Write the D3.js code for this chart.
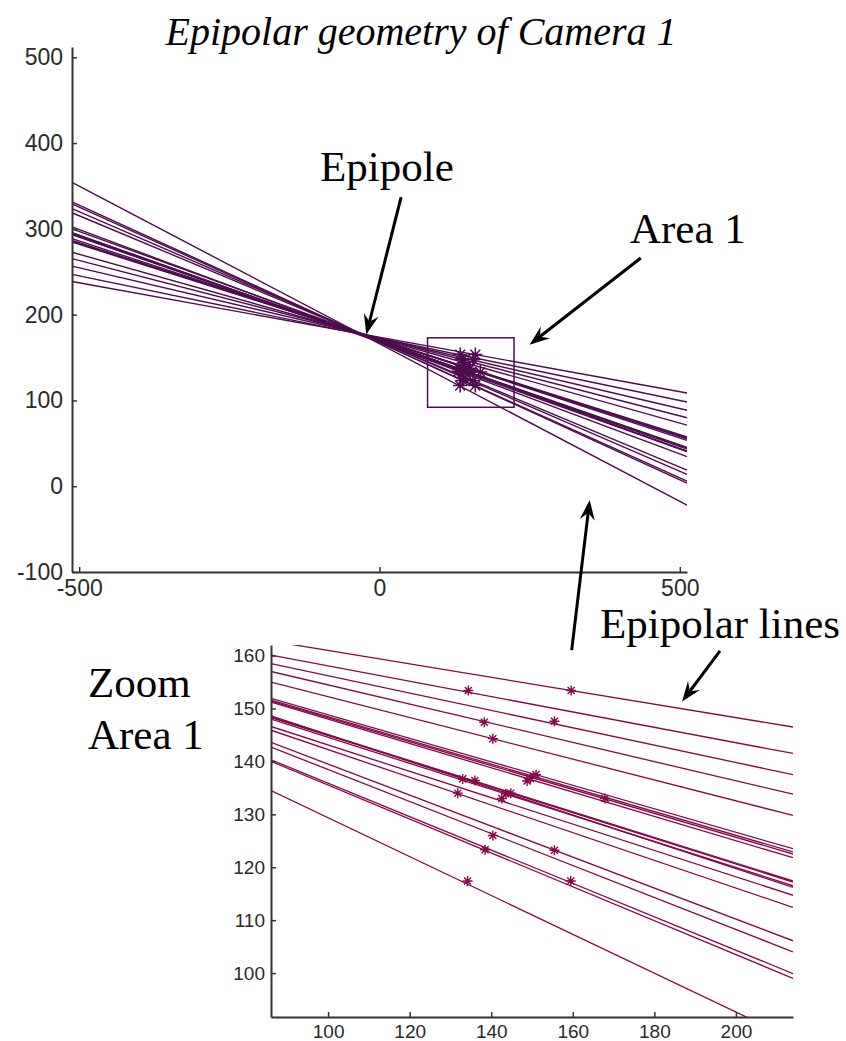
<!DOCTYPE html>
<html>
<head>
<meta charset="utf-8">
<script src="https://cdn.jsdelivr.net/npm/d3@7"></script>
<style>
  body { margin: 0; background: #fff; }
  .axis text { font-family: "Liberation Sans", Arial, sans-serif; fill: #2a2a2a; }
  .note { font-family: "Liberation Serif", "Times New Roman", serif; fill: #000; }
</style>
</head>
<body>
<div id="chart"></div>
<script>
// epipolar lines, each given by its y value at x = 86 and at x = 214 (read from the zoom)
const lineX = [86, 214];
const lineYLeft = [162.75, 160.1, 158.5, 157.0, 155.0, 151.9, 151.6, 151.4, 151.2,
                   148.6, 148.4, 148.3, 148.0, 146.6, 145.9, 142.7, 143.6, 140.3, 140.0, 134.5];
const lineYRight = [146.5, 141.5, 137.5, 133.8, 129.8, 123.5, 122.9, 122.5, 121.8,
                    116.2, 117.4, 117.2, 116.5, 114.7, 112.4, 104.0, 106.1, 99.9, 99.0, 87.5];

// matched points
const pointX = [159.6, 134.4, 155.5, 138.3, 140.4, 151.0, 149.6, 148.8, 167.9,
                133.0, 136.0, 144.8, 143.6, 142.6, 131.8, 140.4, 155.5, 159.5, 138.5, 134.2];
const pointY = [153.4, 153.4, 147.6, 147.4, 144.3, 137.5, 136.8, 136.3, 133.0,
                136.7, 136.4, 134.0, 133.9, 133.0, 134.0, 126.0, 123.2, 117.4, 123.3, 117.4];

// area 1 box (top plot)
const areaX = [80, 224];
const areaY = [92, 173];

const topXDomain = [-512, 512];
const topYDomain = [-100, 512];
const topXTicks = [-500, 0, 500];
const topYTicks = [-100, 0, 100, 200, 300, 400, 500];

const zoomXDomain = [86, 214];
const zoomYDomain = [91.7, 162];
const zoomXTicks = [100, 120, 140, 160, 180, 200];
const zoomYTicks = [100, 110, 120, 130, 140, 150, 160];

const W = 846, H = 1041;
const topColor = "#4e0c4e";
const zoomColor = "#84084a";

const svg = d3.select("#chart")
    .append("svg")
    .attr("width", W)
    .attr("height", H);

const defs = svg.append("defs");

const lineAt = (i, xv) => {
    const s = (lineYRight[i] - lineYLeft[i]) / (lineX[1] - lineX[0]);
    return lineYLeft[i] + s * (xv - lineX[0]);
};

function asterisk(r) {
    const p = d3.path();
    const d = r * Math.SQRT1_2;
    p.moveTo(-r, 0); p.lineTo(r, 0);
    p.moveTo(0, -r); p.lineTo(0, r);
    p.moveTo(-d, -d); p.lineTo(d, d);
    p.moveTo(-d, d); p.lineTo(d, -d);
    return p.toString();
}

function styleAxis(g, fontSize) {
    g.attr("color", "#333");
    g.select(".domain").attr("stroke-width", 2);
    g.selectAll(".tick line").attr("stroke-width", 1.5);
    g.selectAll(".tick text").style("font-size", fontSize + "px");
}

const plain = d => String(d);

// ---------- top plot ----------
const x = d3.scaleLinear().domain(topXDomain).range([72, 687]);
const y = d3.scaleLinear().domain(topYDomain).range([572, 47]);

const topPlot = svg.append("g");

topPlot.selectAll(".epi-line")
    .data(d3.range(lineYLeft.length))
    .enter()
    .append("line")
    .attr("class", "epi-line")
    .attr("x1", x(topXDomain[0]))
    .attr("y1", i => y(lineAt(i, topXDomain[0])))
    .attr("x2", x(topXDomain[1]))
    .attr("y2", i => y(lineAt(i, topXDomain[1])))
    .attr("stroke", topColor)
    .attr("stroke-width", 1.4);

topPlot.append("rect")
    .attr("x", x(areaX[0]))
    .attr("y", y(areaY[1]))
    .attr("width", x(areaX[1]) - x(areaX[0]))
    .attr("height", y(areaY[0]) - y(areaY[1]))
    .attr("fill", "none")
    .attr("stroke", topColor)
    .attr("stroke-width", 1.5);

topPlot.selectAll(".pt")
    .data(pointX.map((px, i) => ({ x: px, y: pointY[i] })))
    .enter()
    .append("path")
    .attr("class", "pt")
    .attr("transform", d => `translate(${x(d.x)}, ${y(d.y)})`)
    .attr("d", asterisk(7))
    .attr("fill", "none")
    .attr("stroke", topColor)
    .attr("stroke-width", 1.5);

const topXAxis = topPlot.append("g")
    .attr("class", "axis")
    .attr("transform", `translate(0, ${y(topYDomain[0])})`)
    .call(d3.axisBottom(x).tickValues(topXTicks).tickFormat(plain)
        .tickSizeInner(-5).tickSizeOuter(0).tickPadding(8));
styleAxis(topXAxis, 23);

const topYAxis = topPlot.append("g")
    .attr("class", "axis")
    .attr("transform", `translate(${x(topXDomain[0])}, 0)`)
    .call(d3.axisLeft(y).tickValues(topYTicks).tickFormat(plain)
        .tickSizeInner(-5).tickSizeOuter(0).tickPadding(9));
styleAxis(topYAxis, 23);

// ---------- zoom plot ----------
const zx = d3.scaleLinear().domain(zoomXDomain).range([271, 793]);
const zy = d3.scaleLinear().domain(zoomYDomain).range([1017, 645]);

defs.append("clipPath")
    .attr("id", "zoomClip")
    .append("rect")
    .attr("x", zx(zoomXDomain[0]))
    .attr("y", zy(zoomYDomain[1]))
    .attr("width", zx(zoomXDomain[1]) - zx(zoomXDomain[0]))
    .attr("height", zy(zoomYDomain[0]) - zy(zoomYDomain[1]));

const zoomPlot = svg.append("g");
const zoomMarks = zoomPlot.append("g").attr("clip-path", "url(#zoomClip)");

zoomMarks.selectAll(".epi-line")
    .data(d3.range(lineYLeft.length))
    .enter()
    .append("line")
    .attr("class", "epi-line")
    .attr("x1", zx(zoomXDomain[0]))
    .attr("y1", i => zy(lineAt(i, zoomXDomain[0])))
    .attr("x2", zx(zoomXDomain[1]))
    .attr("y2", i => zy(lineAt(i, zoomXDomain[1])))
    .attr("stroke", zoomColor)
    .attr("stroke-width", 1.3);

zoomMarks.selectAll(".pt")
    .data(pointX.map((px, i) => ({ x: px, y: pointY[i] })))
    .enter()
    .append("path")
    .attr("class", "pt")
    .attr("transform", d => `translate(${zx(d.x)}, ${zy(d.y)})`)
    .attr("d", asterisk(5))
    .attr("fill", "none")
    .attr("stroke", zoomColor)
    .attr("stroke-width", 1.4);

const zoomXAxis = zoomPlot.append("g")
    .attr("class", "axis")
    .attr("transform", `translate(0, ${zy(zoomYDomain[0])})`)
    .call(d3.axisBottom(zx).tickValues(zoomXTicks).tickFormat(plain)
        .tickSizeInner(-5).tickSizeOuter(0).tickPadding(8));
styleAxis(zoomXAxis, 19);

const zoomYAxis = zoomPlot.append("g")
    .attr("class", "axis")
    .attr("transform", `translate(${zx(zoomXDomain[0])}, 0)`)
    .call(d3.axisLeft(zy).tickValues(zoomYTicks).tickFormat(plain)
        .tickSizeInner(-5).tickSizeOuter(0).tickPadding(6));
styleAxis(zoomYAxis, 19);

// ---------- annotations ----------
svg.append("text")
    .attr("class", "note")
    .attr("x", 421)
    .attr("y", 45)
    .attr("text-anchor", "middle")
    .style("font-size", "40px")
    .style("font-style", "italic")
    .text("Epipolar geometry of Camera 1");

const notes = [
    { text: "Epipole", x: 320, y: 181 },
    { text: "Area 1", x: 630, y: 243 },
    { text: "Epipolar lines", x: 600, y: 638 },
    { text: "Zoom", x: 88, y: 697 },
    { text: "Area 1", x: 88, y: 749 }
];

svg.selectAll(".label")
    .data(notes)
    .enter()
    .append("text")
    .attr("class", "note label")
    .attr("x", d => d.x)
    .attr("y", d => d.y)
    .style("font-size", "43px")
    .text(d => d.text);

// arrows: from / to in the coordinates of the plot they point into
const arrows = [
    { from: [x(36), y(337)], to: [x(-22), y(177)] },
    { from: [x(435), y(266)], to: [x(250), y(165)] },
    { from: [x(320), y(-191)], to: [x(350), y(-16)] },
    { from: [zx(196.1), zy(160.9)], to: [zx(186.8), zy(151.3)] }
];

function arrowHead(from, to) {
    const ang = Math.atan2(to[1] - from[1], to[0] - from[0]);
    const len = 20, half = 7.5, notch = 13;
    const pt = (a, b) => [to[0] - a * Math.cos(ang) + b * Math.sin(ang),
                          to[1] - a * Math.sin(ang) - b * Math.cos(ang)];
    return [to, pt(len, half), pt(notch, 0), pt(len, -half)];
}

const arrowG = svg.append("g");
arrows.forEach(a => {
    const ang = Math.atan2(a.to[1] - a.from[1], a.to[0] - a.from[0]);
    arrowG.append("line")
        .attr("x1", a.from[0])
        .attr("y1", a.from[1])
        .attr("x2", a.to[0] - 12 * Math.cos(ang))
        .attr("y2", a.to[1] - 12 * Math.sin(ang))
        .attr("stroke", "#000")
        .attr("stroke-width", 3);
    arrowG.append("path")
        .attr("d", d3.line()(arrowHead(a.from, a.to)) + "Z")
        .attr("fill", "#000");
});
</script>
</body>
</html>
